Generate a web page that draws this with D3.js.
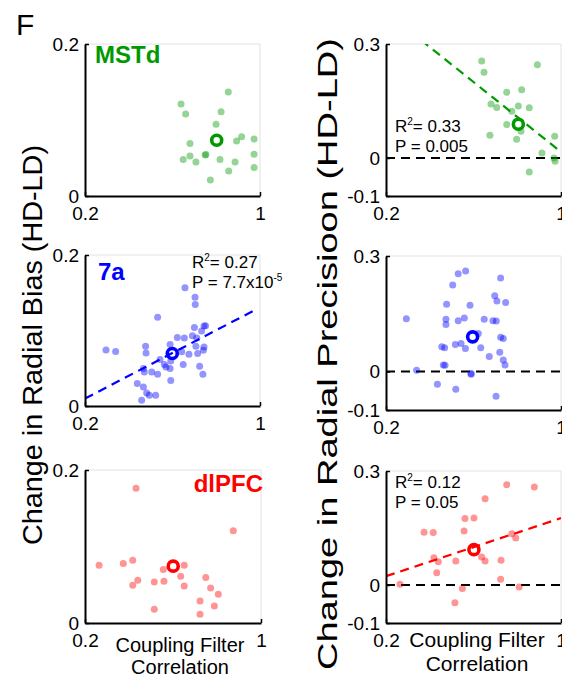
<!DOCTYPE html>
<html>
<head>
<meta charset="utf-8">
<script src="https://cdn.jsdelivr.net/npm/d3@7"></script>
<style>
  html, body { margin: 0; padding: 0; background: #fff; }
  svg { display: block; }
  text { font-family: "Liberation Sans", Arial, sans-serif; }
</style>
</head>
<body>
<svg id="chart" width="562" height="681"></svg>
<script>
// ---------------- DATA ----------------
const xDomain = [0.2, 1];
const biasDomain = [0, 0.2];
const precDomain = [-0.1, 0.3];
const xTicks = [0.2, 1];
const biasTicks = [0, 0.2];
const precTicks = [-0.1, 0, 0.3];

const areaNames = ["MSTd", "7a", "dlPFC"];
const areaColors = ["#009900", "#0000ff", "#ff0000"];

// MSTd — change in radial bias  [coupling corr, change]
const mstdBias = [
  [0.855, 0.137], [0.639, 0.121], [0.660, 0.108], [0.822, 0.111], [0.799, 0.0945],
  [0.680, 0.069], [0.916, 0.078], [0.893, 0.0725], [0.973, 0.075], [0.973, 0.055],
  [0.973, 0.0374], [0.886, 0.0448], [0.817, 0.048], [0.753, 0.0546], [0.749, 0.054],
  [0.680, 0.0527], [0.649, 0.048], [0.707, 0.0448], [0.857, 0.033], [0.773, 0.021]
];
const mstdBiasMean = [0.802, 0.0734];

// MSTd — change in radial precision
const mstdPrec = [
  [0.6375, 0.255], [0.648, 0.2255], [0.892, 0.2455], [0.752, 0.173], [0.820, 0.1796],
  [0.680, 0.142], [0.706, 0.133], [0.805, 0.137], [0.855, 0.132], [0.775, 0.123],
  [0.752, 0.088], [0.817, 0.0707], [0.675, 0.060], [0.797, 0.0496], [0.971, 0.0575],
  [0.913, 0.0134], [0.968, 0.0003], [0.973, -0.0084], [0.855, -0.0367]
];
const mstdPrecMean = [0.805, 0.089];
const mstdPrecFit = { slope: -0.46, intercept: 0.476, from: 0.2, to: 1.0 };
const mstdPrecStats = ["0.33", "0.005", null];

// 7a — change in radial bias
const a7Bias = [
  [0.657, 0.1566], [0.703, 0.1439], [0.704, 0.1346], [0.532, 0.1177], [0.744, 0.1058],
  [0.751, 0.1064], [0.700, 0.1040], [0.733, 0.0995], [0.691, 0.0929], [0.711, 0.0902],
  [0.622, 0.0908], [0.654, 0.0902], [0.589, 0.0815], [0.707, 0.0792], [0.744, 0.0783],
  [0.296, 0.0743], [0.340, 0.0722], [0.477, 0.0792], [0.479, 0.0703], [0.642, 0.0717],
  [0.715, 0.0695], [0.675, 0.0686], [0.741, 0.0739], [0.543, 0.0616], [0.592, 0.0597],
  [0.563, 0.0549], [0.570, 0.0518], [0.649, 0.0549], [0.724, 0.0527], [0.467, 0.0496],
  [0.589, 0.0496], [0.505, 0.0451], [0.532, 0.0421], [0.471, 0.0451], [0.739, 0.0421],
  [0.592, 0.0337], [0.439, 0.0297], [0.467, 0.0252], [0.482, 0.0173], [0.523, 0.0142],
  [0.494, 0.0142], [0.459, 0.0076]
];
const a7BiasMean = [0.599, 0.0695];
const a7BiasFit = { slope: 0.151, intercept: -0.0204, from: 0.2, to: 0.97 };
const a7BiasStats = ["0.27", "7.7x10", "-5"];

// 7a — change in radial precision
const a7Prec = [
  [0.530, 0.254], [0.564, 0.261], [0.724, 0.243], [0.505, 0.225], [0.697, 0.197],
  [0.707, 0.183], [0.747, 0.179], [0.477, 0.175], [0.584, 0.172], [0.293, 0.137],
  [0.474, 0.136], [0.474, 0.122], [0.530, 0.132], [0.558, 0.139], [0.649, 0.136],
  [0.689, 0.132], [0.704, 0.131], [0.622, 0.099], [0.724, 0.089], [0.736, 0.086],
  [0.455, 0.064], [0.468, 0.062], [0.517, 0.070], [0.543, 0.073], [0.563, 0.060],
  [0.633, 0.062], [0.720, 0.050], [0.672, 0.039], [0.736, 0.030], [0.744, 0.017],
  [0.462, 0.017], [0.470, 0.016], [0.340, 0.003], [0.589, -0.005], [0.589, -0.007],
  [0.435, -0.033], [0.519, -0.046], [0.703, -0.064]
];
const a7PrecMean = [0.596, 0.090];

// dlPFC — change in radial bias
const pfcBias = [
  [0.432, 0.176], [0.874, 0.1205], [0.264, 0.0756], [0.374, 0.0778], [0.417, 0.0821],
  [0.440, 0.0559], [0.417, 0.0494], [0.515, 0.0537], [0.559, 0.0546], [0.556, 0.0699],
  [0.651, 0.0756], [0.635, 0.0612], [0.651, 0.0485], [0.749, 0.0595], [0.771, 0.0458],
  [0.806, 0.0376], [0.723, 0.0288], [0.788, 0.0223], [0.723, 0.0114], [0.515, 0.0179]
];
const pfcBiasMean = [0.601, 0.0743];

// dlPFC — change in radial precision
const pfcPrec = [
  [0.752, 0.264], [0.878, 0.258], [0.653, 0.227], [0.561, 0.175], [0.602, 0.176],
  [0.374, 0.139], [0.416, 0.138], [0.557, 0.142], [0.775, 0.135], [0.793, 0.124],
  [0.419, 0.072], [0.439, 0.061], [0.519, 0.063], [0.637, 0.074], [0.653, 0.063],
  [0.726, 0.065], [0.432, 0.032], [0.724, 0.015], [0.264, 0.002], [0.549, -0.009],
  [0.809, -0.005], [0.515, -0.047]
];
const pfcPrecMean = [0.602, 0.093];
const pfcPrecFit = { slope: 0.191, intercept: -0.015, from: 0.2, to: 1.0 };
const pfcPrecStats = ["0.12", "0.05", null];

// ---------------- LAYOUT ----------------
const panels = [
  { area: 0, kind: "bias", pts: mstdBias, mean: mstdBiasMean, fit: null, stats: null,
    box: { x0: 85, x1: 260, y0: 44, y1: 196 }, title: { x: 95, y: 63, anchor: "start" } },
  { area: 0, kind: "prec", pts: mstdPrec, mean: mstdPrecMean, fit: mstdPrecFit, stats: mstdPrecStats,
    box: { x0: 386, x1: 561, y0: 44, y1: 196 }, statPos: { x: 395, y: 132 } },
  { area: 1, kind: "bias", pts: a7Bias, mean: a7BiasMean, fit: a7BiasFit, stats: a7BiasStats,
    box: { x0: 85, x1: 260, y0: 255, y1: 406 }, title: { x: 98, y: 280, anchor: "start" }, statPos: { x: 192, y: 268 } },
  { area: 1, kind: "prec", pts: a7Prec, mean: a7PrecMean, fit: null, stats: null,
    box: { x0: 386, x1: 561, y0: 256, y1: 410 } },
  { area: 2, kind: "bias", pts: pfcBias, mean: pfcBiasMean, fit: null, stats: null,
    box: { x0: 85, x1: 261, y0: 470, y1: 623 }, title: { x: 263, y: 492, anchor: "end" } },
  { area: 2, kind: "prec", pts: pfcPrec, mean: pfcPrecMean, fit: pfcPrecFit, stats: pfcPrecStats,
    box: { x0: 386, x1: 561, y0: 471, y1: 623 }, statPos: { x: 395, y: 488 } }
];

const svg = d3.select("#chart");
const defs = svg.append("defs");
const fmt = d => String(d);

panels.forEach((p, i) => {
  const b = p.box;
  const color = areaColors[p.area];
  const x = d3.scaleLinear().domain(xDomain).range([b.x0, b.x1]);
  const y = d3.scaleLinear().domain(p.kind === "bias" ? biasDomain : precDomain).range([b.y1, b.y0]);
  const g = svg.append("g");

  defs.append("clipPath").attr("id", "clip" + i)
    .append("rect").attr("x", b.x0).attr("y", b.y0).attr("width", b.x1 - b.x0).attr("height", b.y1 - b.y0);

  // light box (top/right)
  g.append("path")
    .attr("d", `M${b.x0},${b.y0}H${b.x1}V${b.y1}`)
    .attr("fill", "none").attr("stroke", "#e2e2e2").attr("stroke-width", 1);

  // zero dashed line for precision panels
  if (p.kind === "prec") {
    g.append("line")
      .attr("x1", x(xDomain[0])).attr("x2", x(xDomain[1]))
      .attr("y1", y(0)).attr("y2", y(0))
      .attr("stroke", "#000").attr("stroke-width", 2).attr("stroke-dasharray", "9,6");
  }

  // points
  g.append("g").selectAll("circle").data(p.pts).join("circle")
    .attr("cx", d => x(d[0])).attr("cy", d => y(d[1])).attr("r", 3.5)
    .attr("fill", color).attr("fill-opacity", 0.42);

  // regression line
  if (p.fit) {
    const f = p.fit;
    g.append("line").attr("clip-path", `url(#clip${i})`)
      .attr("x1", x(f.from)).attr("y1", y(f.intercept + f.slope * f.from))
      .attr("x2", x(f.to)).attr("y2", y(f.intercept + f.slope * f.to))
      .attr("stroke", color).attr("stroke-width", 2.2).attr("stroke-dasharray", "9,6");
  }

  // mean marker
  g.append("circle")
    .attr("cx", x(p.mean[0])).attr("cy", y(p.mean[1])).attr("r", 5)
    .attr("fill", "none").attr("stroke", color).attr("stroke-width", 3.6);

  // axes
  const ax = d3.axisBottom(x).tickValues(xTicks).tickFormat(fmt).tickSizeInner(-4).tickSizeOuter(0).tickPadding(11);
  const ay = d3.axisLeft(y).tickValues(p.kind === "bias" ? biasTicks : precTicks).tickFormat(fmt)
    .tickSizeInner(-4).tickSizeOuter(0).tickPadding(6);
  const gx = g.append("g").attr("transform", `translate(0,${b.y1})`).call(ax);
  const gy = g.append("g").attr("transform", `translate(${b.x0},0)`).call(ay);
  [gx, gy].forEach(a => {
    a.select(".domain").attr("stroke", "#000").attr("stroke-width", 2);
    a.selectAll(".tick line").attr("stroke", "#000").attr("stroke-width", 1.5);
    a.selectAll("text").attr("font-size", 19).attr("fill", "#000")
      .attr("font-family", '"Liberation Sans", Arial, sans-serif');
  });

  // area title
  if (p.title) {
    g.append("text").attr("x", p.title.x).attr("y", p.title.y)
      .attr("text-anchor", p.title.anchor)
      .attr("font-size", 24).attr("font-weight", "bold").attr("fill", color)
      .text(areaNames[p.area]);
  }

  // stats
  if (p.stats) {
    const t1 = g.append("text").attr("x", p.statPos.x).attr("y", p.statPos.y).attr("font-size", 17);
    t1.append("tspan").text("R");
    t1.append("tspan").attr("font-size", 10).attr("dy", -7).text("2");
    t1.append("tspan").attr("dy", 7).text("= " + p.stats[0]);
    const t2 = g.append("text").attr("x", p.statPos.x).attr("y", p.statPos.y + 20).attr("font-size", 17);
    t2.append("tspan").text("P = " + p.stats[1]);
    if (p.stats[2]) {
      t2.append("tspan").attr("font-size", 10).attr("dy", -7).text(p.stats[2]);
    }
  }
});

// x-axis titles
[[180, 652, 674, 20], [477, 647, 671, 21]].forEach(([cx, yA, yB, fs]) => {
  svg.append("text").attr("x", cx).attr("y", yA).attr("text-anchor", "middle")
    .attr("font-size", fs).text("Coupling Filter");
  svg.append("text").attr("x", cx).attr("y", yB).attr("text-anchor", "middle")
    .attr("font-size", fs).text("Correlation");
});

// y-axis titles
svg.append("text").attr("transform", "translate(42,345) rotate(-90)")
  .attr("text-anchor", "middle").attr("font-size", 27)
  .attr("textLength", 400).attr("lengthAdjust", "spacingAndGlyphs")
  .text("Change in Radial Bias (HD-LD)");
svg.append("text").attr("transform", "translate(337,354) rotate(-90)")
  .attr("text-anchor", "middle").attr("font-size", 28)
  .attr("textLength", 632).attr("lengthAdjust", "spacingAndGlyphs")
  .text("Change in Radial Precisioon (HD-LD)");

// panel letter
svg.append("text").attr("x", 16).attr("y", 35).attr("font-size", 30).text("F");
</script>
</body>
</html>
